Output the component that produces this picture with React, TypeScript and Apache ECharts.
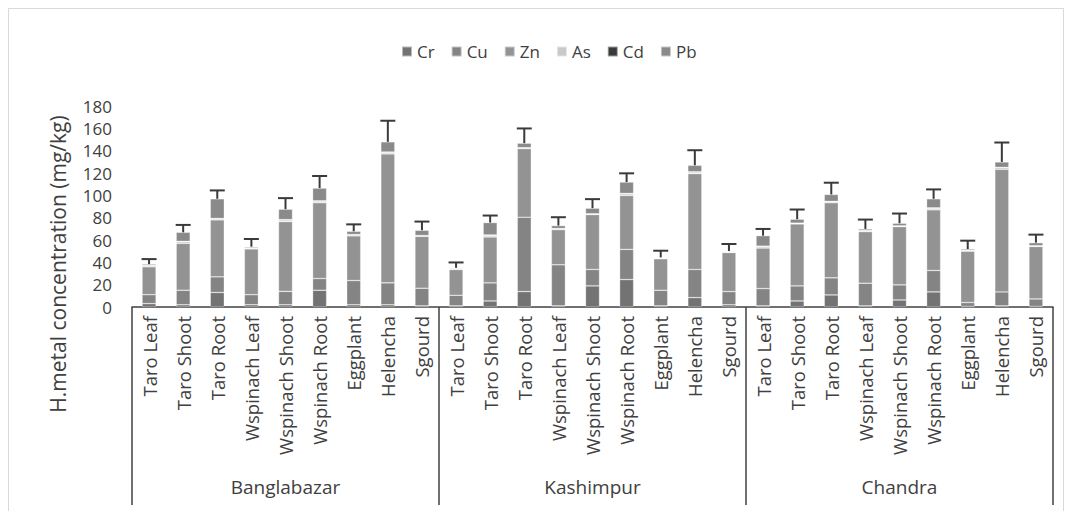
import React, { useEffect, useRef } from "react";
import * as echarts from "echarts";

const sites = ["Banglabazar", "Kashimpur", "Chandra"];
const plants = ["Taro Leaf", "Taro Shoot", "Taro Root", "Wspinach Leaf", "Wspinach Shoot", "Wspinach Root", "Eggplant", "Helencha", "Sgourd"];
const yTicks = { min: 0, max: 180, interval: 20 };

const Cr = [3, 2, 13, 2, 2, 15, 2, 2, 1, 1, 5.4, 13.8, 1, 18.9, 24.6, 1, 8.4, 2, 1, 5.4, 10.8, 1, 6.3, 13.5, 0.5, 1, 0.5];
const Cu = [8, 13, 14, 9, 12, 10.5, 21.7, 19.6, 15.8, 9.5, 16.2, 66.6, 36.8, 14.7, 27, 14, 25.2, 11.8, 15.5, 13.5, 15.3, 20.3, 13.5, 19.2, 3.5, 12.5, 6.7];
const Zn = [25, 42, 51, 41, 62.5, 67.8, 40, 115.5, 46.5, 23, 41.1, 61.5, 31.5, 49.2, 48.3, 28.2, 85.8, 35, 36.3, 55.5, 67.2, 46.2, 52.2, 54.3, 46, 109.8, 47];
const As = [1, 1.5, 1, 0.8, 1.5, 1.5, 1, 1.5, 0.5, 0.8, 1.5, 0.5, 0.8, 0.5, 1.5, 0.5, 1.5, 0.5, 1.5, 0.5, 1, 0.8, 0.5, 1.5, 0.5, 1.5, 0.5];
const Cd = [0.2, 0.3, 0.3, 0.2, 0.3, 0.3, 0.2, 0.2, 0.2, 0.2, 0.3, 0.3, 0.2, 0.2, 0.3, 0.2, 0.2, 0.2, 0.2, 0.2, 0.3, 0.2, 0.2, 0.3, 0.2, 0.2, 0.2];
const Pb = [1.2, 8.1, 17.6, 1.0, 9.3, 11.4, 2.9, 9.1, 4.7, 0.6, 11.1, 4.0, 2.6, 5.0, 10.2, 0.5, 5.8, 0.6, 9.4, 3.5, 6.2, 1.4, 2.3, 8.1, 1.2, 4.9, 2.7];
const errors = [4.5, 6.6, 7.5, 6.9, 9.9, 10.8, 6.2, 18.9, 7.8, 4.8, 6.3, 13.2, 7.5, 8.1, 7.8, 6, 13.5, 6.3, 6, 8.7, 10.5, 8.4, 8.7, 8.4, 7.5, 17.4, 7.2];

const metals = [
  { name: "Cr", data: Cr, color: "#737373" },
  { name: "Cu", data: Cu, color: "#848484" },
  { name: "Zn", data: Zn, color: "#939393" },
  { name: "As", data: As, color: "#c9c9c9" },
  { name: "Cd", data: Cd, color: "#3a3a3a" },
  { name: "Pb", data: Pb, color: "#8a8a8a" },
];

const FONT = "'Open Sans', 'Liberation Sans', sans-serif";
const TXT = "#404040";

export default function App() {
  const ref = useRef<HTMLDivElement>(null);
  useEffect(() => {
    if (!ref.current) return;
    const chart = echarts.init(ref.current, null, { renderer: "svg" });
    const cats = sites.flatMap(() => plants);
    const totals = cats.map((_, i) => metals.reduce((s, m) => s + m.data[i], 0));
    const errData = cats.map((_, i) => [i, totals[i], errors[i]]);

    chart.setOption({
      animation: false,
      textStyle: { fontFamily: FONT },
      legend: {
        left: 396,
        top: 38,
        icon: "rect",
        itemWidth: 10,
        itemHeight: 10,
        itemGap: 16,
        textStyle: { fontSize: 17, color: TXT, fontFamily: FONT },
        data: metals.map((m) => m.name),
      },
      grid: { left: 132, right: 19, top: 106, bottom: 204 },
      xAxis: [
        {
          type: "category",
          data: cats,
          axisLine: { lineStyle: { color: TXT, width: 1.5 } },
          axisTick: { show: false },
          axisLabel: { rotate: 90, interval: 0, fontSize: 18.5, color: TXT, margin: 9, fontFamily: FONT },
        },
        {
          type: "category",
          data: sites,
          position: "bottom",
          axisLine: { show: false },
          axisTick: { show: true, length: 198, interval: 0, lineStyle: { color: TXT, width: 1.5 } },
          axisLabel: { interval: 0, fontSize: 19, color: TXT, margin: 170, fontFamily: FONT },
        },
      ],
      yAxis: {
        type: "value",
        min: yTicks.min,
        max: yTicks.max,
        interval: yTicks.interval,
        axisLine: { show: false },
        axisTick: { show: false },
        splitLine: { show: false },
        axisLabel: { fontSize: 17, color: TXT, margin: 20, fontFamily: FONT },
      },
      graphic: [
        {
          type: "rect",
          shape: { x: 8.5, y: 8.5, width: 1055, height: 520 },
          style: { fill: "none", stroke: "#d9d9d9", lineWidth: 1 },
          silent: true,
        },
        {
          type: "text",
          x: 58,
          y: 264,
          rotation: Math.PI / 2,
          style: {
            text: "H.metal concentration (mg/kg)",
            fontSize: 21,
            fill: TXT,
            fontFamily: FONT,
            align: "center",
            verticalAlign: "middle",
          },
        },
      ],
      series: [
        ...metals.map((m) => ({
          name: m.name,
          type: "bar",
          stack: "total",
          barWidth: 14,
          data: m.data,
          itemStyle: { color: m.color, borderColor: "rgba(255,255,255,0.5)", borderWidth: 0.6 },
        })),
        {
          type: "custom",
          name: "err",
          z: 10,
          data: errData,
          renderItem: (params: any, api: any) => {
            const x = api.value(0);
            const top = api.value(1);
            const e = api.value(2);
            const p0 = api.coord([x, top]);
            const p1 = api.coord([x, top + e]);
            const hw = 7.5;
            const style = { stroke: "#3a3a3a", lineWidth: 2 };
            return {
              type: "group",
              children: [
                { type: "line", shape: { x1: p0[0], y1: p0[1], x2: p1[0], y2: p1[1] }, style },
                { type: "line", shape: { x1: p1[0] - hw, y1: p1[1], x2: p1[0] + hw, y2: p1[1] }, style },
              ],
            };
          },
        },
      ],
    });
    return () => chart.dispose();
  }, []);
  return <div ref={ref} style={{ position: "absolute", left: 0, top: 0, width: 1072, height: 511 }} />;
}
